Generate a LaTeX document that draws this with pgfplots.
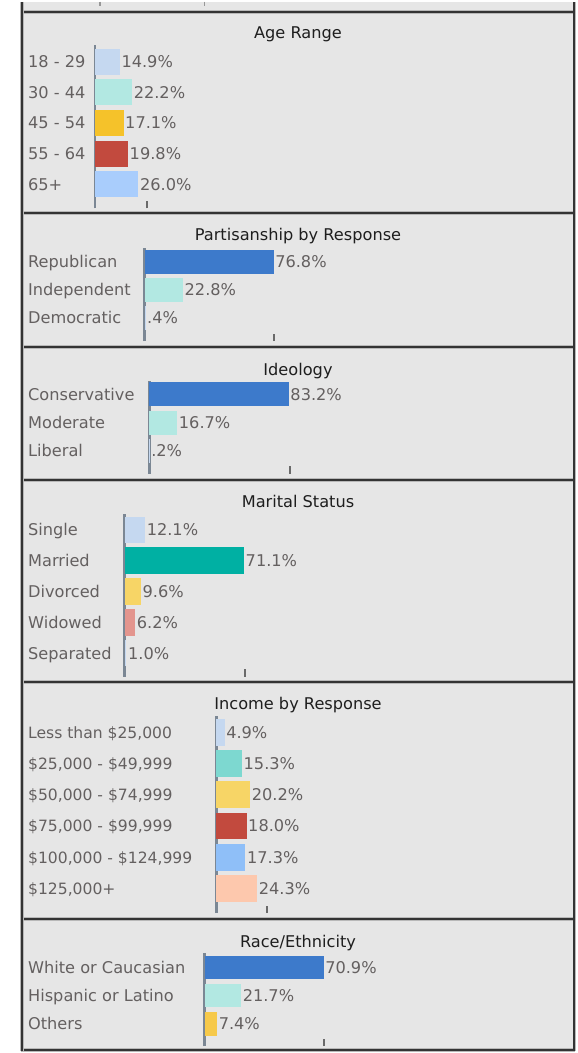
\documentclass[border=0pt]{standalone}
\usepackage{pgfplots}
\pgfplotsset{compat=1.18}
\usepackage{fontspec}
\setmainfont{DejaVu Sans}
\newcommand\lab{\fontsize{16.2}{19}\selectfont}
\newcommand\labn{\fontsize{15.6}{19}\selectfont}
\definecolor{bgcol}{HTML}{E6E6E6}
\definecolor{labcol}{HTML}{646060}
\definecolor{titcol}{HTML}{1E1E1E}
\definecolor{axcol}{HTML}{7B8794}
\definecolor{tickcol}{HTML}{6A6A6A}
\definecolor{bordcol}{HTML}{333333}
\definecolor{haloc}{HTML}{B8B8B8}
\definecolor{cLB}{HTML}{C5D8F0}
\definecolor{cAq}{HTML}{B2E8E2}
\definecolor{cGold}{HTML}{F5C22A}
\definecolor{cRed}{HTML}{C24A3E}
\definecolor{cSky}{HTML}{A9CDFC}
\definecolor{cBlue}{HTML}{3D7ACB}
\definecolor{cTeal}{HTML}{00B0A3}
\definecolor{cYel}{HTML}{F7D566}
\definecolor{cPink}{HTML}{E3958E}
\definecolor{cTq}{HTML}{7DD8D0}
\definecolor{cSky2}{HTML}{8FBFF8}
\definecolor{cPeach}{HTML}{FDC8AD}
\definecolor{cOr}{HTML}{F6C94A}
\pgfplotsset{
  b/.style={fill=#1, draw=none, bar shift=0pt},
  panel/.style={
    xbar, scale only axis, axis lines*=left, xmin=0,
    axis line style={-},
    x axis line style={draw=none},
    y axis line style={draw=axcol, line width=2.6pt},
    every outer y axis line/.append style={draw=axcol, line width=2.6pt},
    xticklabels={},
    major tick length=7.5pt, tick align=inside,
    xtick style={draw=tickcol, line width=2pt},
    every x tick/.append style={draw=tickcol, line width=2pt},
    ytick style={draw=none},
    yticklabel style={anchor=base west, inner sep=0pt, text=labcol, font=\lab, yshift=-5.9pt},
    nodes near coords, point meta=explicit symbolic,
    every node near coord/.append style={anchor=base west, inner sep=1.5pt, text=labcol, font=\lab, yshift=-5.9pt},
    clip=false,
  },
}
\begin{document}
\begin{tikzpicture}[x=1pt,y=1pt]
\path (0,0) rectangle (576,1053);
% panel background
\fill[bgcol] (22,3) rectangle (576,1053);
% remnants of a previous panel's ticks at the very top
\draw[tickcol!70, line width=1.5pt] (100,1053) -- (100,1049);
\draw[tickcol!70, line width=1.5pt] (205,1053) -- (205,1049);
% borders
\foreach \yy in {1043,841,707,574,371.5,134,3}{
  \draw[haloc, line width=4pt] (21,\yy) -- (576,\yy);
  \draw[bordcol, line width=1.8pt] (21,\yy) -- (576,\yy);
}
\draw[haloc, line width=3.5pt] (22,2) -- (22,1053);
\draw[bordcol, line width=1.6pt] (22,2) -- (22,1053);
\draw[haloc, line width=3pt] (575,2) -- (575,1053);
\draw[bordcol, line width=1.4pt] (575,2) -- (575,1053);

% ---------- Age Range ----------
\begin{axis}[panel, at={(95pt,846pt)}, anchor=south west,
  width=480pt, height=164pt, xmax=285.71, ymin=-0.788, ymax=4.554,
  bar width=26pt, xtick={31},
  ytick={0,1,2,3,4}, yticklabels={65+,55 - 64,45 - 54,30 - 44,18 - 29},
  yticklabel style={xshift=-67pt}]
\addplot[b=cLB] coordinates {(14.9,4) [14.9\%]};
\addplot[b=cAq] coordinates {(22.2,3) [22.2\%]};
\addplot[b=cGold] coordinates {(17.1,2) [17.1\%]};
\addplot[b=cRed] coordinates {(19.8,1) [19.8\%]};
\addplot[b=cSky] coordinates {(26.0,0) [26.0\%]};
\end{axis}
\node[anchor=base, font=\lab, text=titcol, inner sep=0pt] at (298.5,{1053-31-5.9}) {Age Range};

% ---------- Partisanship ----------
\begin{axis}[panel, at={(145pt,713pt)}, anchor=south west,
  width=430pt, height=93pt, xmax=255.95, ymin=-0.832, ymax=2.489,
  bar width=24pt, xtick={76.8},
  ytick={0,1,2}, yticklabels={Democratic,Independent,Republican},
  yticklabel style={xshift=-117pt}]
\addplot[b=cBlue] coordinates {(76.8,2) [76.8\%]};
\addplot[b=cAq] coordinates {(22.8,1) [22.8\%]};
\addplot[b=cLB] coordinates {(0.4,0) [.4\%]};
\end{axis}
\node[anchor=base, font=\lab, text=titcol, inner sep=0pt] at (298.5,{1053-233-5.9}) {Partisanship by Response};

% ---------- Ideology ----------
\begin{axis}[panel, at={(149.5pt,580pt)}, anchor=south west,
  width=425.5pt, height=93pt, xmax=253.27, ymin=-0.813, ymax=2.47,
  bar width=24pt, xtick={83.8},
  ytick={0,1,2}, yticklabels={Liberal,Moderate,Conservative},
  yticklabel style={xshift=-121.5pt}]
\addplot[b=cBlue] coordinates {(83.2,2) [83.2\%]};
\addplot[b=cAq] coordinates {(16.7,1) [16.7\%]};
\addplot[b=cLB] coordinates {(0.2,0) [.2\%]};
\end{axis}
\node[anchor=base, font=\lab, text=titcol, inner sep=0pt] at (298.5,{1053-368-5.9}) {Ideology};

% ---------- Marital Status ----------
\begin{axis}[panel, at={(125pt,377pt)}, anchor=south west,
  width=450pt, height=163pt, xmax=267.86, ymin=-0.757, ymax=4.518,
  bar width=26.5pt, xtick={71.4},
  ytick={0,1,2,3,4}, yticklabels={Separated,Widowed,Divorced,Married,Single},
  yticklabel style={xshift=-97pt}]
\addplot[b=cLB] coordinates {(12.1,4) [12.1\%]};
\addplot[b=cTeal] coordinates {(71.1,3) [71.1\%]};
\addplot[b=cYel] coordinates {(9.6,2) [9.6\%]};
\addplot[b=cPink] coordinates {(6.2,1) [6.2\%]};
\addplot[b=cLB] coordinates {(1.0,0) [1.0\%]};
\end{axis}
\node[anchor=base, font=\lab, text=titcol, inner sep=0pt] at (298.5,{1053-501-5.9}) {Marital Status};

% ---------- Income ----------
\begin{axis}[panel, at={(216.7pt,140pt)}, anchor=south west,
  width=358.3pt, height=198pt, xmax=213.27, ymin=-0.792, ymax=5.534,
  bar width=27pt, xtick={30},
  ytick={0,1,2,3,4,5},
  yticklabels={{\$125,000+},{\$100,000 - \$124,999},{\$75,000 - \$99,999},{\$50,000 - \$74,999},{\$25,000 - \$49,999},{Less than \$25,000}},
  yticklabel style={xshift=-188.7pt, font=\labn}]
\addplot[b=cLB] coordinates {(4.9,5) [4.9\%]};
\addplot[b=cTq] coordinates {(15.3,4) [15.3\%]};
\addplot[b=cYel] coordinates {(20.2,3) [20.2\%]};
\addplot[b=cRed] coordinates {(18.0,2) [18.0\%]};
\addplot[b=cSky2] coordinates {(17.3,1) [17.3\%]};
\addplot[b=cPeach] coordinates {(24.3,0) [24.3\%]};
\end{axis}
\node[anchor=base, font=\lab, text=titcol, inner sep=0pt] at (298.5,{1053-702.7-5.9}) {Income by Response};

% ---------- Race ----------
\begin{axis}[panel, at={(205pt,7pt)}, anchor=south west,
  width=370pt, height=93pt, xmax=220.24, ymin=-0.776, ymax=2.504,
  bar width=23.5pt, xtick={71.4},
  ytick={0,1,2}, yticklabels={Others,Hispanic or Latino,White or Caucasian},
  yticklabel style={xshift=-177pt}]
\addplot[b=cBlue] coordinates {(70.9,2) [70.9\%]};
\addplot[b=cAq] coordinates {(21.7,1) [21.7\%]};
\addplot[b=cOr] coordinates {(7.4,0) [7.4\%]};
\end{axis}
\node[anchor=base, font=\lab, text=titcol, inner sep=0pt] at (298.5,{1053-941.7-5.9}) {Race/Ethnicity};
\end{tikzpicture}
\end{document}
